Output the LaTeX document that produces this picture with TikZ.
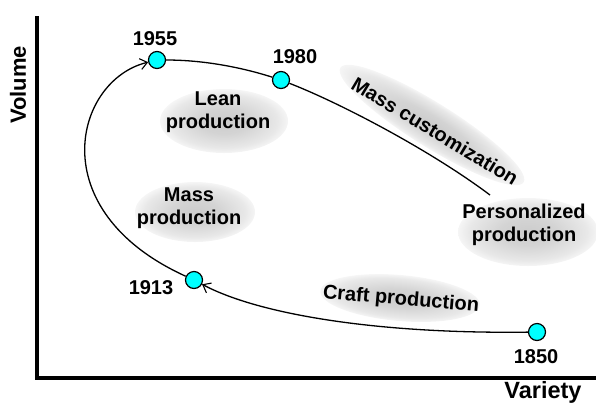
\documentclass[tikz,border=0pt]{standalone}
\usepackage{fontspec}
\setmainfont{Liberation Sans}
\usetikzlibrary{arrows.meta}
\definecolor{aqua}{RGB}{0,255,255}
\pgfdeclareradialshading{blobshade}{\pgfpoint{0bp}{0bp}}{color(0bp)=(black!20); color(10bp)=(black!17); color(21bp)=(black!9); color(28bp)=(white); color(50bp)=(white)}
\begin{document}
\begin{tikzpicture}[x=1pt,y=-1pt,
  dot/.style={circle,draw=black,line width=1.2pt,fill=aqua,minimum size=17pt,inner sep=0pt},
  yr/.style={font=\bfseries\fontsize{20}{23}\selectfont,inner sep=0pt},
  lbl/.style={font=\bfseries\fontsize{20}{23}\selectfont,align=center,inner sep=0pt},
  axl/.style={font=\bfseries\fontsize{22}{24}\selectfont,inner sep=0pt},
  curve/.style={line width=1.3pt},
  arr/.style={-{Straight Barb[length=7pt,width=11pt,line width=1.1pt]}}]
\useasboundingbox (0,0) rectangle (596,408);
% shaded blobs
\foreach \cx/\cy/\rx/\ry/\ang in {224/121/64/32/0, 195/212/60/30/0, 528/232/70/34/0, 432/125/108/22/-32, 400/298/80/23/-5}
  \shade[shading=blobshade, transform canvas={shift={(\cx,\cy)}, rotate=\ang}] (0,0) ellipse [x radius=\rx, y radius=\ry];
% axes
\coordinate (ytop) at (37,16);
\coordinate (org) at (37,378);
\coordinate (xend) at (596,378);
\draw[line width=3.5pt] (ytop) -- (org) -- (xend);
\node[axl, rotate=90] (vol) at (18,85) {Volume};
\node[axl, font=\bfseries\fontsize{23.5}{25}\selectfont] (var) at (543,392) {Variety};
% points
\node[dot] (p1955) at (157,60) {};
\node[dot] (p1980) at (281,80) {};
\node[dot] (p1913) at (194,280) {};
\node[dot] (p1850) at (537,332) {};
\coordinate (cend) at (490,195);
% curves
\draw[curve,arr] (p1850) .. controls (380,334) and (260,315) .. (p1913);
\draw[curve,arr] (p1913) .. controls (40,210) and (75,80) .. (p1955);
\draw[curve] (p1955) .. controls (210,60) and (250,70) .. (p1980);
\draw[curve] (p1980) .. controls (340,103) and (430,150) .. (cend);
% year labels
\node[yr] (t1955) at (155,39) {1955};
\node[yr] (t1980) at (295,57) {1980};
\node[yr] (t1913) at (151,288) {1913};
\node[yr] (t1850) at (536,357) {1850};
% era labels
\node[lbl] (lean) at (218,112) {Lean\\production};
\node[lbl] (mass) at (189,208) {Mass\\production};
\node[lbl] (pers) at (524,225) {Personalized\\production};
\node[lbl, rotate=-5] (craft) at (401,300) {Craft production};
\node[lbl, rotate=-31] (mcust) at (435,131) {Mass customization};
\end{tikzpicture}
\end{document}
